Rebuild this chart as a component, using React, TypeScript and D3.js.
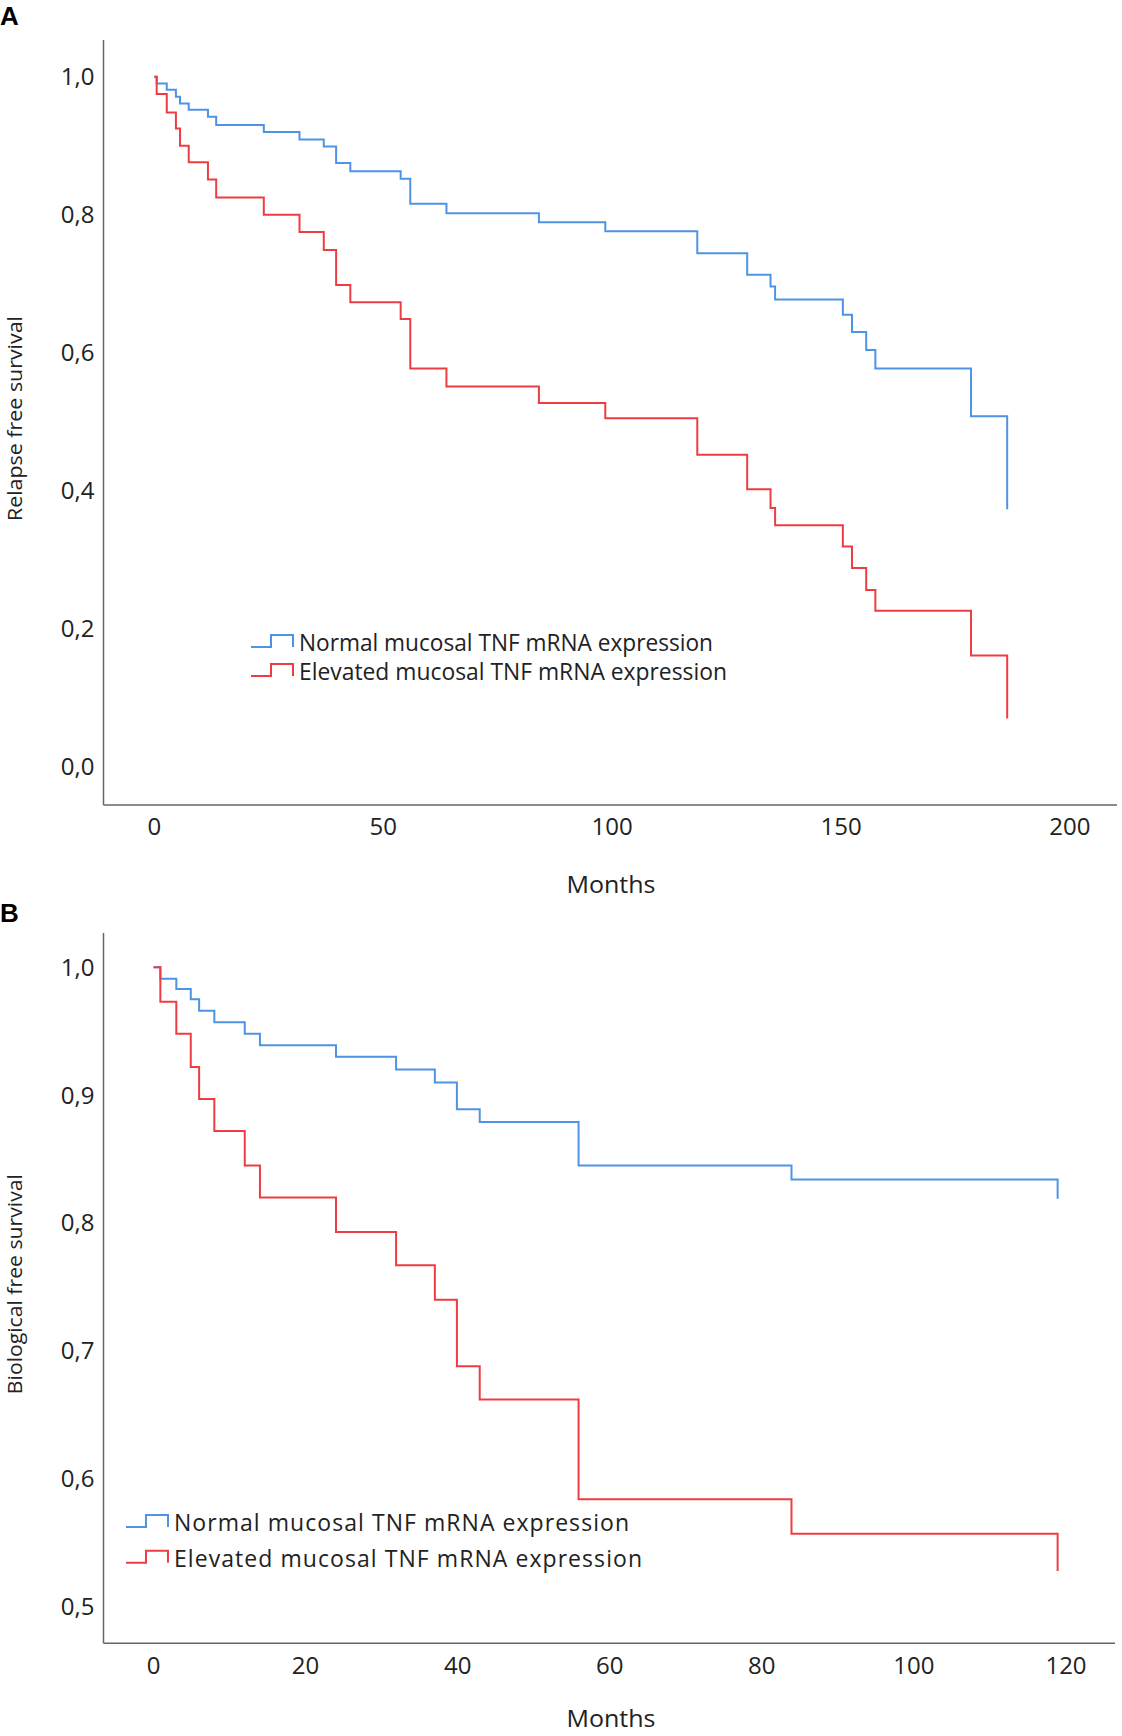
import React from 'react';
import * as d3 from 'd3';

// Panel A: relapse free survival
const relapseMonths = [0.5, 2.7, 4.7, 5.6, 7.5, 11.7, 13.5, 23.9, 31.7, 37, 39.7, 42.8, 53.8, 55.9, 63.8, 84, 98.5, 118.6, 129.5, 134.6, 135.6, 150.4, 152.4, 155.5, 157.5, 178.4, 186.3];
const relapseNormal = [0.99, 0.981, 0.971, 0.961, 0.952, 0.942, 0.93, 0.92, 0.909, 0.899, 0.875, 0.863, 0.852, 0.816, 0.802, 0.789, 0.776, 0.744, 0.713, 0.696, 0.677, 0.655, 0.63, 0.604, 0.577, 0.508, 0.373];
const relapseElevated = [0.975, 0.948, 0.925, 0.9, 0.876, 0.851, 0.825, 0.8, 0.775, 0.749, 0.698, 0.673, 0.649, 0.577, 0.551, 0.527, 0.505, 0.452, 0.402, 0.375, 0.35, 0.319, 0.288, 0.256, 0.226, 0.161, 0.07];
const relapseXTicks = [0, 50, 100, 150, 200];
const relapseYTicks = [0, 0.2, 0.4, 0.6, 0.8, 1.0];

// Panel B: biological free survival
const bioMonths = [0.9, 3.0, 4.9, 6.0, 8.0, 12.0, 14.0, 24.0, 31.9, 37.0, 39.9, 42.9, 55.9, 83.9, 118.9];
const bioNormal = [0.991, 0.983, 0.975, 0.966, 0.957, 0.948, 0.939, 0.93, 0.92, 0.91, 0.889, 0.879, 0.845, 0.834, 0.819];
const bioElevated = [0.973, 0.948, 0.922, 0.897, 0.872, 0.845, 0.82, 0.793, 0.767, 0.74, 0.688, 0.662, 0.584, 0.557, 0.528];
const bioXTicks = [0, 20, 40, 60, 80, 100, 120];
const bioYTicks = [0.5, 0.6, 0.7, 0.8, 0.9, 1.0];

const legendLabels = ['Normal mucosal TNF mRNA expression', 'Elevated mucosal TNF mRNA expression'];

const BLUE = '#4f93e4';
const RED = '#ee3d42';
const AXIS = '#666';
const FONT = '"Open Sans", "DejaVu Sans", sans-serif';

type Panel = {
    letter: string;
    letterY: number;
    yLabel: string;
    yLabelLen: number;
    months: number[];
    normal: number[];
    elevated: number[];
    xTicks: number[];
    yTicks: number[];
    xDomain: [number, number];
    xRange: [number, number];
    yDomain: [number, number];
    yRange: [number, number];
    axisLeft: number;
    axisRight: number;
    axisTop: number;
    axisBottom: number;
    monthsY: number;
    legend: { x: number; y: number; gap: number; lens: number[]; spread: boolean };
};

const panels: Panel[] = [
    {
        letter: 'A', letterY: 25,
        yLabel: 'Relapse free survival', yLabelLen: 205,
        months: relapseMonths, normal: relapseNormal, elevated: relapseElevated,
        xTicks: relapseXTicks, yTicks: relapseYTicks,
        xDomain: [0, 200], xRange: [154.4, 1069.9],
        yDomain: [0, 1], yRange: [766.7, 76.7],
        axisLeft: 103.5, axisRight: 1117, axisTop: 40, axisBottom: 805,
        monthsY: 893,
        legend: { x: 251, y: 651, gap: 29, lens: [414, 428], spread: false },
    },
    {
        letter: 'B', letterY: 922,
        yLabel: 'Biological free survival', yLabelLen: 220,
        months: bioMonths, normal: bioNormal, elevated: bioElevated,
        xTicks: bioXTicks, yTicks: bioYTicks,
        xDomain: [0, 120], xRange: [153.5, 1066],
        yDomain: [0.5, 1], yRange: [1606.7, 967.3],
        axisLeft: 103.5, axisRight: 1115, axisTop: 933, axisBottom: 1643.3,
        monthsY: 1727,
        legend: { x: 126, y: 1531, gap: 35.7, lens: [455, 468], spread: true },
    },
];

const fmt = (d: number) => d.toFixed(1).replace('.', ',');

const KMPanel: React.FC<{ p: Panel }> = ({ p }) => {
    const x = d3.scaleLinear().domain(p.xDomain).range(p.xRange);
    const y = d3.scaleLinear().domain(p.yDomain).range(p.yRange);
    const line = d3.line<[number, number]>()
        .x(d => x(d[0]))
        .y(d => y(d[1]))
        .curve(d3.curveStepAfter);
    const pts = (vals: number[]): [number, number][] =>
        [[0, 1] as [number, number]].concat(p.months.map((m, i) => [m, vals[i]] as [number, number]));
    const yMid = (p.axisTop + p.axisBottom) / 2;

    return (
        <g>
            <text x={0} y={p.letterY} fontFamily="Arial, 'Liberation Sans', sans-serif" fontWeight="bold" fontSize={26}>{p.letter}</text>
            <line x1={p.axisLeft} x2={p.axisLeft} y1={p.axisTop} y2={p.axisBottom} stroke={AXIS} strokeWidth={1.5} />
            <line x1={p.axisLeft} x2={p.axisRight} y1={p.axisBottom} y2={p.axisBottom} stroke={AXIS} strokeWidth={1.5} />
            {p.yTicks.map(t => (
                <text key={t} x={p.axisLeft - 9} y={y(t)} dy="0.35em" textAnchor="end" fontFamily={FONT} fontSize={24} fill="#222">{fmt(t)}</text>
            ))}
            {p.xTicks.map(t => (
                <text key={t} x={x(t)} y={p.axisBottom + 22} dy="0.35em" textAnchor="middle" fontFamily={FONT} fontSize={24} fill="#222">{t}</text>
            ))}
            <text x={611} y={p.monthsY} textAnchor="middle" fontFamily={FONT} fontSize={24} fill="#222" textLength={89} lengthAdjust="spacingAndGlyphs">Months</text>
            <text transform={`translate(22,${yMid - 4}) rotate(-90)`} textAnchor="middle" fontFamily={FONT} fontSize={20} fill="#222" textLength={p.yLabelLen} lengthAdjust="spacingAndGlyphs">{p.yLabel}</text>
            <path d={line(pts(p.normal)) || ''} fill="none" stroke={BLUE} strokeWidth={2} />
            <path d={line(pts(p.elevated)) || ''} fill="none" stroke={RED} strokeWidth={2} />
            {[BLUE, RED].map((c, i) => {
                const ly = p.legend.y + i * p.legend.gap;
                const lx = p.legend.x;
                return (
                    <g key={c}>
                        <path d={`M${lx},${ly - 4}H${lx + 20}V${ly - 16}H${lx + 42}V${ly - 4}`} fill="none" stroke={c} strokeWidth={2} />
                        <text x={lx + 48} y={ly} fontFamily={FONT} fontSize={23} fill="#222"
                            textLength={p.legend.lens[i]} lengthAdjust={p.legend.spread ? 'spacing' : 'spacingAndGlyphs'}>{legendLabels[i]}</text>
                    </g>
                );
            })}
        </g>
    );
};

const App: React.FC = () => (
    <svg width={1122} height={1736} style={{ position: 'absolute', left: 0, top: 0, background: '#fff' }}>
        <rect width={1122} height={1736} fill="#fff" />
        {panels.map(p => <KMPanel key={p.letter} p={p} />)}
    </svg>
);

export default App;
